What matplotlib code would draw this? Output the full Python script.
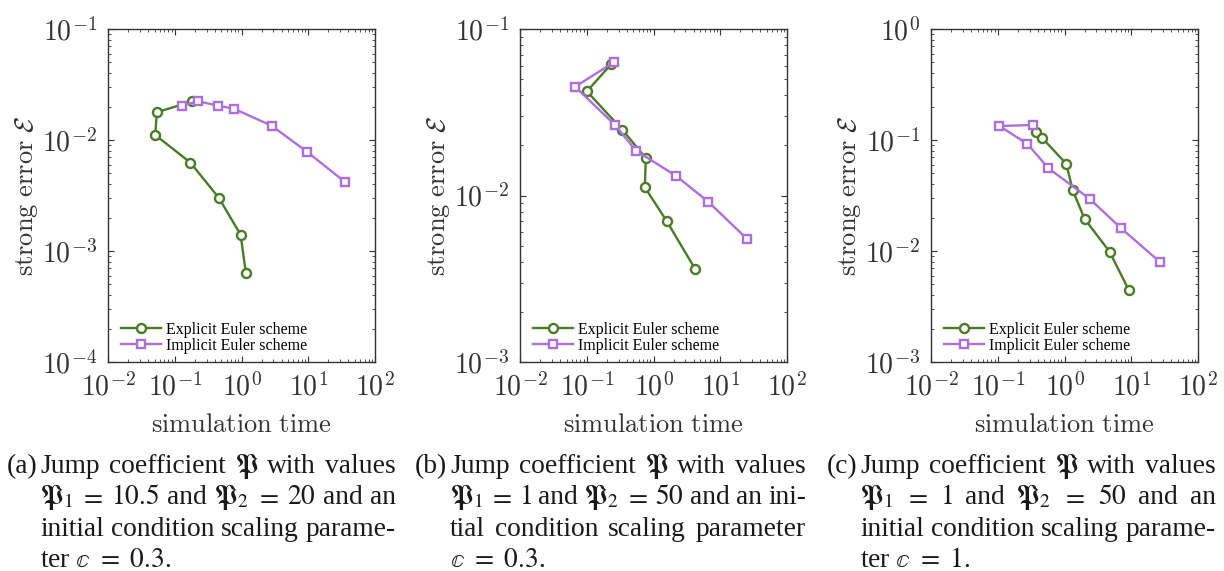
import numpy as np
import matplotlib
matplotlib.use("Agg")
import matplotlib.pyplot as plt
from matplotlib.ticker import LogLocator, FuncFormatter, NullFormatter

plt.rcParams['mathtext.fontset'] = 'cm'
plt.rcParams['font.family'] = ['Liberation Serif', 'DejaVu Serif']

# data, in the order the lines are drawn
a_exp_t = [0.184, 0.054, 0.051, 0.172, 0.46, 0.97, 1.16]
a_exp_e = [0.0223, 0.0178, 0.0111, 0.00625, 0.0030, 0.0014, 0.00064]
a_imp_t = [0.130, 0.224, 0.447, 0.776, 2.82, 9.66, 35.5]
a_imp_e = [0.0204, 0.0223, 0.0204, 0.0191, 0.01346, 0.0078, 0.00419]

b_exp_t = [0.233, 0.1006, 0.342, 0.767, 0.741, 1.567, 4.17]
b_exp_e = [0.0616, 0.0422, 0.0248, 0.01676, 0.0112, 0.00705, 0.00364]
b_imp_t = [0.2535, 0.0671, 0.262, 0.548, 2.19, 6.64, 25.0]
b_imp_e = [0.0631, 0.045, 0.0266, 0.0186, 0.0131, 0.00916, 0.0055]

c_exp_t = [0.371, 0.468, 1.06, 1.33, 2.0, 4.73, 9.12]
c_exp_e = [0.118, 0.1035, 0.0612, 0.0352, 0.0195, 0.00986, 0.00449]
c_imp_t = [0.343, 0.106, 0.279, 0.575, 2.37, 7.08, 26.6]
c_imp_e = [0.1365, 0.1337, 0.092, 0.0556, 0.0296, 0.016, 0.008]

ylims = [(1e-4, 1e-1), (1e-3, 1e-1), (1e-3, 1e0)]
labels = ['(a)', '(b)', '(c)']
captions = [
    ['Jump coefficient $\\mathfrak{P}$ with values',
     '$\\mathfrak{P}_1$ $=$ $10.5$ and $\\mathfrak{P}_2$ $=$ $20$ and an',
     'initial condition scaling parame-',
     'ter $\\mathbb{c}\\ =\\ 0.3$.'],
    ['Jump coefficient $\\mathfrak{P}$ with values',
     '$\\mathfrak{P}_1$ $=$ $1$ and $\\mathfrak{P}_2$ $=$ $50$ and an ini-',
     'tial condition scaling parameter',
     '$\\mathbb{c}\\ =\\ 0.3$.'],
    ['Jump coefficient $\\mathfrak{P}$ with values',
     '$\\mathfrak{P}_1$ $=$ $1$ and $\\mathfrak{P}_2$ $=$ $50$ and an',
     'initial condition scaling parame-',
     'ter $\\mathbb{c}\\ =\\ 1$.'],
]

green = '#4b7a28'
purple = '#ad6fdb'

W, H = 1224, 571
fig = plt.figure(figsize=(W / 100, H / 100), dpi=100)

panels = [(a_exp_t, a_exp_e, a_imp_t, a_imp_e),
          (b_exp_t, b_exp_e, b_imp_t, b_imp_e),
          (c_exp_t, c_exp_e, c_imp_t, c_imp_e)]
lefts = [108, 520, 931]

def dec_fmt(v, pos):
    return '$10^{%d}$' % int(round(np.log10(v)))

for i, (et, ee, it, ie) in enumerate(panels):
    ax = fig.add_axes([lefts[i] / W, (H - 362) / H, 267 / W, 333 / H])
    ax.plot(et, ee, '-o', color=green, lw=1.7, ms=6.5, mew=1.7,
            mfc='white', label='Explicit Euler scheme')
    ax.plot(it, ie, '-s', color=purple, lw=1.7, ms=6, mew=1.7,
            mfc='white', label='Implicit Euler scheme')
    ax.set_xscale('log')
    ax.set_yscale('log')
    ax.set_xlim(1e-2, 1e2)
    ax.set_ylim(*ylims[i])
    for axis in (ax.xaxis, ax.yaxis):
        axis.set_major_locator(LogLocator(base=10, numticks=10))
        axis.set_minor_locator(LogLocator(base=10, subs=np.arange(2, 10), numticks=10))
        axis.set_major_formatter(FuncFormatter(dec_fmt))
        axis.set_minor_formatter(NullFormatter())
    ax.tick_params(which='both', direction='in', top=True, right=True,
                   color='#333333', labelcolor='#333333')
    ax.tick_params(which='major', length=4, width=0.8, labelsize=20, pad=8)
    ax.tick_params(which='minor', length=2, width=0.6)
    for s in ax.spines.values():
        s.set_color('#333333')
        s.set_linewidth(1.0)
    ax.set_ylabel(r'$\mathrm{strong\ error}\ \mathcal{E}$', fontsize=19, color='#333333')
    ax.yaxis.set_label_coords(-0.255, 0.5)
    ax.set_xlabel(r'$\mathrm{simulation\ time}$', fontsize=19, color='#333333', va='top')
    ax.xaxis.set_label_coords(0.5, -0.155)
    ax.legend(loc='lower left', bbox_to_anchor=(0.05, 0.025), frameon=False,
              fontsize=11.5, handlelength=2.5, handletextpad=0.3,
              labelspacing=0.0, borderpad=0, borderaxespad=0)

# captions: justified lines with hanging label
renderer = fig.canvas.get_renderer()
cap_size = 19.8
base_y = [473, 504, 536, 567]

def put(x, y, s, ha='left'):
    return fig.text(x / W, 1 - y / H, s, fontsize=cap_size, ha=ha,
                    va='baseline', color='#1a1a1a', math_fontfamily='stix')

for i, lines in enumerate(captions):
    off = 410 * i
    put(37 + off, base_y[0], labels[i], ha='right')
    x0, x1 = 40 + off, 396 + off
    for j, line in enumerate(lines):
        y = base_y[j]
        if j == len(lines) - 1:
            put(x0, y, line)
            continue
        words = line.split(' ')
        txts = [put(0, y, w) for w in words]
        widths = [t.get_window_extent(renderer).width for t in txts]
        gap = (x1 - x0 - sum(widths)) / (len(words) - 1)
        x = x0
        for t, w in zip(txts, widths):
            t.set_x(x / W)
            x += w + gap

fig.savefig('out.png', dpi=100)
